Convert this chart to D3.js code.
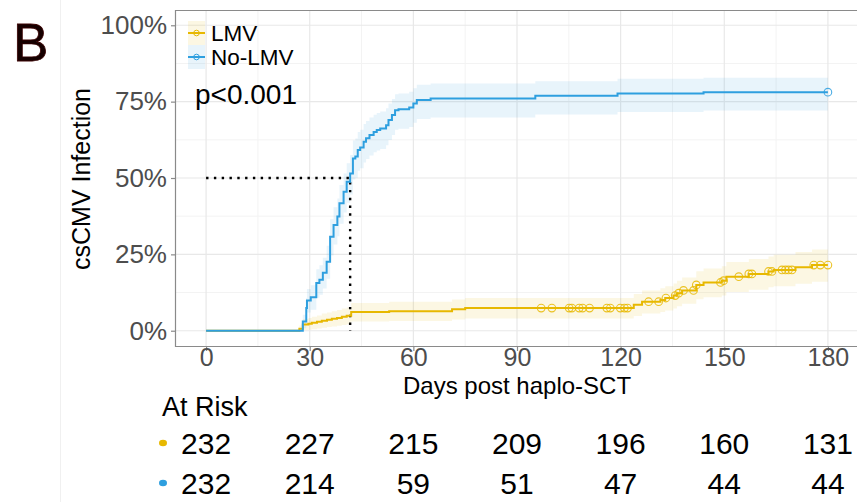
<!DOCTYPE html>
<html lang="en">
<head>
<meta charset="utf-8">
<title>csCMV cumulative incidence</title>
<script src="https://d3js.org/d3.v7.min.js"></script>
<style>
  body { margin: 0; background: #fff; }
  svg { display: block; font-family: "Liberation Sans", Arial, sans-serif; }
</style>
</head>
<body>
<script>
// ---- data ----
const lmvTime = [0, 27.0, 28.0, 29.6, 30.6, 32.1, 33.5, 35.0, 36.4, 37.9, 39.3, 40.7, 42.0, 53.0, 71.2, 75.0, 123.8, 126.2, 131.5, 132.9, 135.3, 136.3, 137.8, 141.9, 144.0, 149.3, 150.6, 157.1, 162.8, 164.3, 170.6, 175.4, 180];
const lmvEst  = [0, .0065, .020, .023, .026, .029, .033, .036, .039, .042, .046, .049, .061, .064, .070, .074, .085, .095, .101, .107, .115, .123, .132, .150, .158, .164, .177, .186, .194, .199, .208, .215, .215];
const lmvLow  = [0, 0, .002, .0035, .005, .007, .010, .012, .014, .016, .019, .021, .030, .032, .037, .040, .048, .056, .061, .066, .073, .080, .088, .103, .110, .115, .127, .134, .142, .146, .154, .160, .160];
const lmvHigh = [0, .017, .038, .042, .046, .050, .056, .060, .064, .068, .073, .076, .091, .095, .102, .107, .120, .132, .139, .146, .155, .164, .174, .195, .204, .211, .225, .235, .243, .249, .258, .266, .266];
const lmvCensor = [97.0, 100.1, 105.1, 105.9, 108.0, 109.0, 111.0, 116.0, 117.0, 119.9, 121.1, 122.0, 128.1, 131.0, 133.1, 135.8, 136.8, 138.2, 141.1, 141.9, 148.9, 149.8, 154.2, 157.1, 158.0, 162.8, 163.8, 166.7, 167.7, 168.6, 169.6, 175.9, 177.8, 180];

const noLmvTime = [0, 28.0, 29.0, 29.2, 30.3, 31.9, 32.8, 33.8, 34.9, 35.9, 36.9, 38.0, 38.6, 39.8, 40.7, 41.7, 42.5, 43.2, 43.9, 44.6, 45.6, 46.3, 47.3, 48.5, 49.4, 50.4, 52.1, 52.8, 53.8, 54.7, 55.7, 58.8, 60.0, 61.0, 65.0, 95.3, 119.1, 144.0, 180];
const noLmvEst  = [0, .030, .074, .099, .110, .156, .167, .190, .226, .308, .346, .374, .417, .455, .488, .515, .564, .570, .592, .600, .619, .630, .641, .651, .657, .662, .673, .690, .706, .722, .725, .731, .744, .755, .760, .769, .777, .781, .781];
const noLmvLow  = [0, .008, .040, .060, .069, .108, .118, .138, .170, .246, .282, .309, .350, .387, .419, .446, .495, .501, .524, .532, .551, .562, .574, .584, .590, .595, .607, .624, .641, .658, .661, .667, .681, .693, .698, .708, .716, .721, .721];
const noLmvHigh = [0, .052, .107, .137, .149, .201, .214, .239, .278, .365, .404, .433, .477, .515, .548, .575, .623, .629, .651, .658, .677, .687, .698, .707, .713, .718, .728, .744, .759, .774, .777, .782, .794, .805, .809, .817, .825, .828, .828];
const noLmvCensor = [180];

const groupNames = ["LMV", "No-LMV"];
const groupColors = ["#E7B800", "#2E9FDF"];

const xTicks = [0, 30, 60, 90, 120, 150, 180];
const yTicks = [0, 0.25, 0.5, 0.75, 1];
const riskTimes = [0, 30, 60, 90, 120, 150, 180];
const lmvRisk = [232, 227, 215, 209, 196, 160, 131];
const noLmvRisk = [232, 214, 59, 51, 47, 44, 44];

const pText = "p<0.001";

// ---- layout ----
const w = 857, h = 502;
const svg = d3.select("body").append("svg").attr("width", w).attr("height", h);

const x = d3.scaleLinear().domain([-9, 189]).range([175, 859]);
const y = d3.scaleLinear().domain([-0.05, 1.05]).range([346, 10]);

// faint figure divider on the far left
svg.append("line").attr("x1", 60.5).attr("x2", 60.5).attr("y1", 0).attr("y2", h)
   .attr("stroke", "#f0f0f0").attr("stroke-width", 1);

// panel letter
svg.append("text").attr("x", 13).attr("y", 61).text("B")
   .attr("font-size", 53).attr("fill", "#160000")
   .attr("stroke", "#3a0000").attr("stroke-width", 0.8);

// grid
const grid = svg.append("g");
const xMinor = d3.range(15, 180, 30);
const yMinor = [0.125, 0.375, 0.625, 0.875];
grid.selectAll(".xm").data(xMinor).enter().append("line")
    .attr("x1", d => x(d)).attr("x2", d => x(d)).attr("y1", 10).attr("y2", 346)
    .attr("stroke", "#f3f3f3").attr("stroke-width", 1);
grid.selectAll(".ym").data(yMinor).enter().append("line")
    .attr("y1", d => y(d)).attr("y2", d => y(d)).attr("x1", 175).attr("x2", w)
    .attr("stroke", "#f3f3f3").attr("stroke-width", 1);
grid.selectAll(".xM").data(xTicks).enter().append("line")
    .attr("x1", d => x(d)).attr("x2", d => x(d)).attr("y1", 10).attr("y2", 346)
    .attr("stroke", "#e8e8e8").attr("stroke-width", 1.2);
grid.selectAll(".yM").data(yTicks).enter().append("line")
    .attr("y1", d => y(d)).attr("y2", d => y(d)).attr("x1", 175).attr("x2", w)
    .attr("stroke", "#e8e8e8").attr("stroke-width", 1.2);

// panel border (top + left + bottom visible)
svg.append("path")
   .attr("d", `M${w},10.5 H175.5 V346.5 H${w}`)
   .attr("fill", "none").attr("stroke", "#8a8a8a").attr("stroke-width", 1.2);

// axes
const xAxis = svg.append("g").attr("transform", "translate(0,346)")
   .call(d3.axisBottom(x).tickValues(xTicks).tickSize(5).tickPadding(-3));
const yAxis = svg.append("g").attr("transform", "translate(175,0)")
   .call(d3.axisLeft(y).tickValues(yTicks).tickFormat(d3.format(".0%")).tickSize(4).tickPadding(4));
[xAxis, yAxis].forEach(a => {
  a.select(".domain").remove();
  a.selectAll(".tick line").attr("stroke", "#8a8a8a").attr("stroke-width", 1.2);
  a.selectAll(".tick text").attr("fill", "#4d4d4d").attr("font-size", 26)
   .attr("font-family", "Liberation Sans, Arial, sans-serif");
});
xAxis.selectAll(".tick text").attr("font-size", 25);

// axis titles
svg.append("text").attr("x", 517).attr("y", 394).attr("text-anchor", "middle")
   .attr("font-size", 24).attr("fill", "#000").text("Days post haplo-SCT");
svg.append("text").attr("transform", "translate(90,179) rotate(-90)")
   .attr("text-anchor", "middle").attr("font-size", 25).attr("fill", "#000").text("csCMV Infection");

// curves
const groups = [
  {time: lmvTime, est: lmvEst, lo: lmvLow, hi: lmvHigh, cens: lmvCensor},
  {time: noLmvTime, est: noLmvEst, lo: noLmvLow, hi: noLmvHigh, cens: noLmvCensor}
];
const band = d3.area().curve(d3.curveStepAfter)
   .x(d => x(d.t)).y0(d => y(d.lo)).y1(d => y(d.hi));
const line = d3.line().curve(d3.curveStepAfter)
   .x(d => x(d.t)).y(d => y(d.e));

groups.forEach(g => {
  g.pts = g.time.map((t, k) => ({t: t, e: g.est[k], lo: g.lo[k], hi: g.hi[k]}));
});
groups.forEach((g, i) => {
  svg.append("path").datum(g.pts).attr("d", band)
     .attr("fill", groupColors[i]).attr("fill-opacity", 0.11);
});

// median line for No-LMV
const med = noLmvTime[noLmvEst.findIndex(v => v >= 0.5)];
svg.append("path")
   .attr("d", `M${x(0)},${y(0.5)} H${x(med)} V${y(0)}`)
   .attr("fill", "none").attr("stroke", "#000").attr("stroke-width", 2.4)
   .attr("stroke-dasharray", "2.4,5.4");

groups.forEach((g, i) => {
  svg.append("path").datum(g.pts).attr("d", line)
     .attr("fill", "none").attr("stroke", groupColors[i]).attr("stroke-width", 2);
  const at = t => g.est[d3.bisectRight(g.time, t) - 1];
  svg.selectAll(null).data(g.cens).enter().append("circle")
     .attr("cx", d => x(d)).attr("cy", d => y(at(d))).attr("r", 3.8)
     .attr("fill", "none").attr("stroke", groupColors[i]).attr("stroke-width", 1.1)
     .attr("stroke-opacity", 0.85);
});

// legend
const leg = svg.append("g");
groupNames.forEach((name, i) => {
  const top = 21 + i * 24;
  leg.append("rect").attr("x", 188).attr("y", top).attr("width", 17).attr("height", 24)
     .attr("fill", groupColors[i]).attr("fill-opacity", 0.11);
  leg.append("line").attr("x1", 188).attr("x2", 205).attr("y1", top + 12).attr("y2", top + 12)
     .attr("stroke", groupColors[i]).attr("stroke-width", 2);
  leg.append("circle").attr("cx", 196.5).attr("cy", top + 12).attr("r", 2.8)
     .attr("fill", "none").attr("stroke", groupColors[i]).attr("stroke-width", 1);
  leg.append("text").attr("x", 211).attr("y", top + 20).attr("font-size", 22.5)
     .attr("fill", "#000").text(name);
});

svg.append("text").attr("x", 195).attr("y", 104).attr("font-size", 28)
   .attr("fill", "#000").text(pText);

// risk table
svg.append("text").attr("x", 162).attr("y", 416).attr("font-size", 27)
   .attr("fill", "#000").text("At Risk");
[lmvRisk, noLmvRisk].forEach((row, i) => {
  const cy = 443 + i * 40;
  svg.append("ellipse").attr("cx", 163).attr("cy", cy).attr("rx", 4).attr("ry", 3.2)
     .attr("fill", groupColors[i]);
  svg.selectAll(null).data(row).enter().append("text")
     .attr("x", (d, k) => x(riskTimes[k])).attr("y", cy + 11)
     .attr("text-anchor", "middle").attr("font-size", 30).attr("fill", "#000")
     .text(d => d);
});
</script>
</body>
</html>
